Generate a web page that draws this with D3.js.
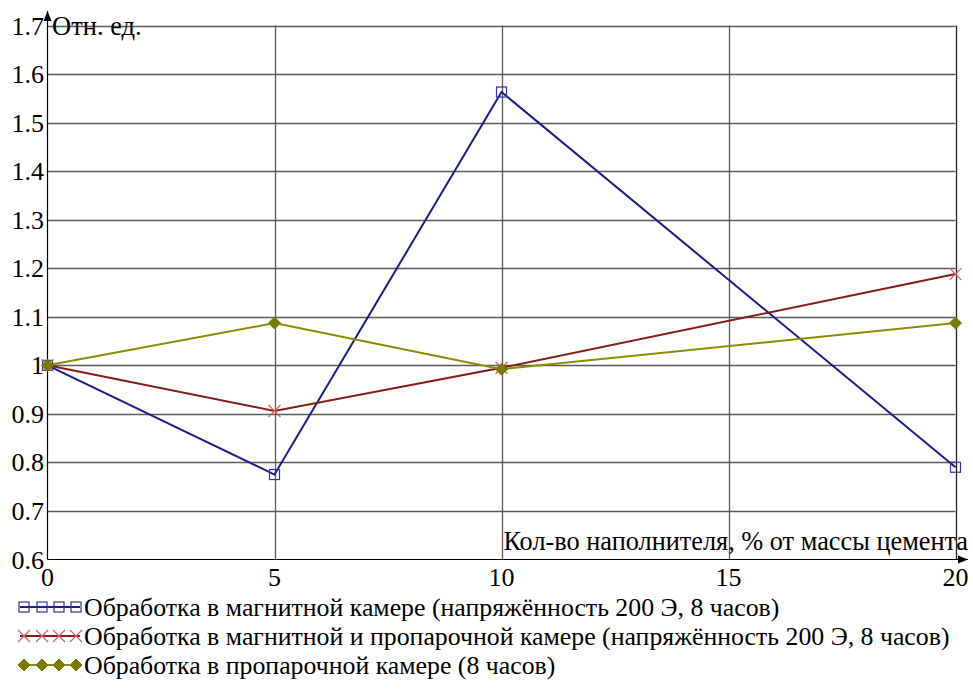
<!DOCTYPE html>
<html>
<head>
<meta charset="utf-8">
<script src="https://cdn.jsdelivr.net/npm/d3@7"></script>
<style>
  html, body { margin: 0; padding: 0; background: #fff; }
  svg { display: block; }
  svg text { font-family: 'Liberation Serif', 'Times New Roman', Tinos, 'DejaVu Serif', serif; }
</style>
</head>
<body>
<svg id="chart" width="973" height="694"></svg>
<script>
// Filler content, % of cement mass
const fillerPct = [0, 5, 10, 20];
// Relative units for each treatment
const magneticVals = [1.0, 0.775, 1.563, 0.79];
const magneticSteamVals = [1.0, 0.906, 0.995, 1.188];
const steamVals = [1.0, 1.087, 0.992, 1.087];

const xTicks = [0, 5, 10, 15, 20];
const yTicks = [0.6, 0.7, 0.8, 0.9, 1.0, 1.1, 1.2, 1.3, 1.4, 1.5, 1.6, 1.7];
const yTickLabels = ["0.6", "0.7", "0.8", "0.9", "1", "1.1", "1.2", "1.3", "1.4", "1.5", "1.6", "1.7"];

const seriesNames = [
  "Обработка в магнитной камере (напряжённость 200 Э, 8 часов)",
  "Обработка в магнитной и пропарочной камере (напряжённость 200 Э, 8 часов)",
  "Обработка в пропарочной камере (8 часов)"
];
const yTitle = "Отн. ед.";
const xTitle = "Кол-во наполнителя, % от массы цемента";

const svg = d3.select("#chart");
const plotLeft = 47.5, plotRight = 955.5, plotTop = 25.5, plotBottom = 559.5;

const x = d3.scaleLinear().domain([0, 20]).range([plotLeft, plotRight]);
const y = d3.scaleLinear().domain([0.6, 1.7]).range([plotBottom, plotTop]);

// Grid
const grid = svg.append("g");
grid.selectAll("line.h").data(yTicks.slice(1)).join("line")
  .attr("x1", plotLeft).attr("x2", plotRight)
  .attr("y1", d => Math.round(y(d)) + 0.5).attr("y2", d => Math.round(y(d)) + 0.5)
  .attr("stroke", "#5a5a5a").attr("stroke-width", 1.3);
grid.selectAll("line.v").data(xTicks.slice(1)).join("line")
  .attr("y1", plotTop).attr("y2", plotBottom)
  .attr("x1", d => Math.round(x(d)) + 0.5).attr("x2", d => Math.round(x(d)) + 0.5)
  .attr("stroke", d => d === 20 ? "#222" : "#5a5a5a").attr("stroke-width", 1.3);

// Axes with arrowheads
svg.append("defs").append("marker")
  .attr("id", "arrow").attr("viewBox", "0 0 10 10").attr("refX", 10).attr("refY", 5)
  .attr("markerWidth", 10).attr("markerHeight", 10).attr("markerUnits", "userSpaceOnUse")
  .attr("orient", "auto")
  .append("path").attr("d", "M0,1 L10,5 L0,9 Z").attr("fill", "#000");

svg.append("line").attr("x1", plotLeft).attr("x2", 968).attr("y1", plotBottom).attr("y2", plotBottom)
  .attr("stroke", "#000").attr("stroke-width", 1.2).attr("marker-end", "url(#arrow)");
svg.append("line").attr("x1", plotLeft).attr("x2", plotLeft).attr("y1", plotBottom).attr("y2", 11)
  .attr("stroke", "#000").attr("stroke-width", 1.2).attr("marker-end", "url(#arrow)");

// Tick labels
svg.append("g").selectAll("text").data(yTicks).join("text")
  .attr("x", 44).attr("y", d => y(d) + 9)
  .attr("text-anchor", "end").attr("font-size", 26).attr("fill", "#000")
  .text((d, i) => yTickLabels[i]);
svg.append("g").selectAll("text").data(xTicks).join("text")
  .attr("x", d => x(d)).attr("y", 586)
  .attr("text-anchor", "middle").attr("font-size", 26).attr("fill", "#000")
  .text(d => d);

// Axis titles
svg.append("text").attr("x", 52).attr("y", 35).attr("font-size", 26.5).text(yTitle);
svg.append("text").attr("x", 968).attr("y", 550).attr("text-anchor", "end")
  .attr("font-size", 26.3).text(xTitle);

// Marker shapes
function drawMarker(g, kind, cx, cy) {
  if (kind === "square") {
    g.append("rect").attr("x", cx - 5).attr("y", cy - 5).attr("width", 10).attr("height", 10)
      .attr("fill", "none").attr("stroke", "#3333aa").attr("stroke-width", 1.2);
  } else if (kind === "cross") {
    g.append("path").attr("d", `M${cx-6},${cy-6}L${cx+6},${cy+6}M${cx-6},${cy+6}L${cx+6},${cy-6}`)
      .attr("stroke", "#d06060").attr("stroke-width", 1.2).attr("fill", "none");
  } else {
    g.append("path").attr("d", `M${cx},${cy-6}L${cx+6},${cy}L${cx},${cy+6}L${cx-6},${cy}Z`)
      .attr("fill", "#7a7a00").attr("stroke", "#7a7a00").attr("stroke-width", 1);
  }
}

const series = [
  { vals: magneticVals, color: "#1c1c8e", marker: "square" },
  { vals: magneticSteamVals, color: "#8b1a1a", marker: "cross" },
  { vals: steamVals, color: "#8c8c00", marker: "diamond" }
];

const line = d3.line().x(d => x(d[0])).y(d => y(d[1]));
const plot = svg.append("g");
series.forEach(s => {
  const pts = fillerPct.map((p, i) => [p, s.vals[i]]);
  plot.append("path").datum(pts).attr("d", line)
    .attr("fill", "none").attr("stroke", s.color).attr("stroke-width", 2);
});
series.forEach(s => {
  const g = plot.append("g");
  fillerPct.forEach((p, i) => drawMarker(g, s.marker, x(p), y(s.vals[i])));
});

// Legend
const legend = svg.append("g");
series.forEach((s, i) => {
  const ly = 607 + i * 29;
  const g = legend.append("g");
  g.append("line").attr("x1", 20).attr("x2", 80).attr("y1", ly).attr("y2", ly)
    .attr("stroke", s.color).attr("stroke-width", 2);
  [24, 42, 59, 76].forEach(mx => drawMarker(g, s.marker, mx, ly));
  g.append("text").attr("x", 84).attr("y", ly + 9).attr("font-size", 25.8).text(seriesNames[i]);
});
</script>
</body>
</html>
